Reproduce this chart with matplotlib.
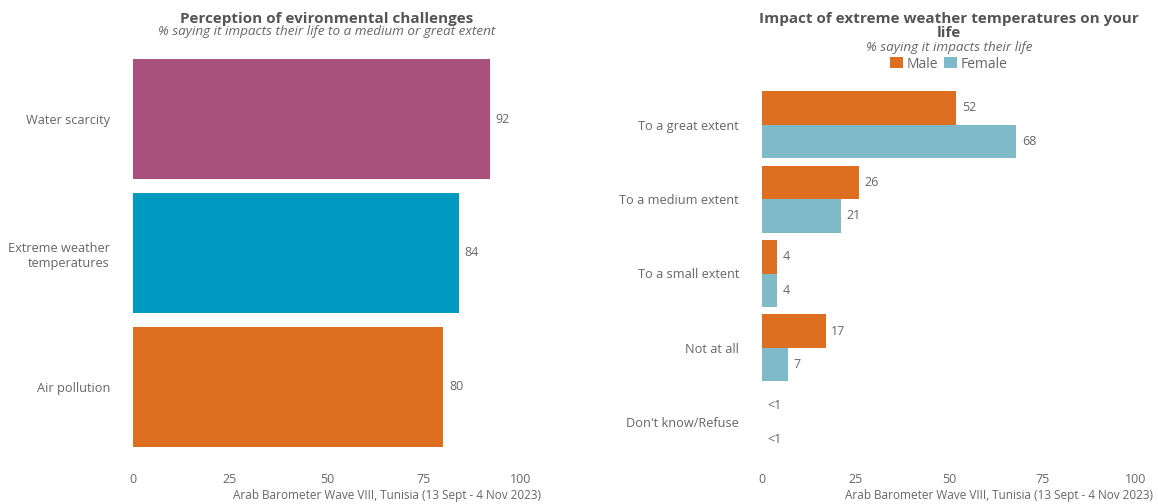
import matplotlib.pyplot as plt
import numpy as np

plt.rcParams['font.family'] = ['Open Sans', 'DejaVu Sans']

# left panel data
challenges = ['Water scarcity', 'Extreme weather\ntemperatures', 'Air pollution']
challenge_vals = [92, 84, 80]
challenge_colors = ['#AA507D', '#0099C0', '#DE6E20']

# right panel data
extent_cats = ['To a great extent', 'To a medium extent', 'To a small extent',
               'Not at all', "Don't know/Refuse"]
male_vals = [52, 26, 4, 17, 0]
female_vals = [68, 21, 4, 7, 0]
male_labels = ['52', '26', '4', '17', '<1']
female_labels = ['68', '21', '4', '7', '<1']

ticks = [0, 25, 50, 75, 100]
W, H = 1158, 504
grey = '#555555'
label_grey = '#666666'
caption = 'Arab Barometer Wave VIII, Tunisia (13 Sept - 4 Nov 2023)'

fig = plt.figure(figsize=(W / 100, H / 100), dpi=100)


def px_axes(x0, x1, y0, y1):
    return fig.add_axes([x0 / W, 1 - y1 / H, (x1 - x0) / W, (y1 - y0) / H])


def style(ax):
    for s in ax.spines.values():
        s.set_visible(False)
    ax.tick_params(length=0, labelsize=9, labelcolor=label_grey)
    ax.tick_params(axis='y', pad=16.5, labelsize=9.2)
    ax.tick_params(axis='x', pad=4)
    ax.set_xlim(0, 100)
    ax.set_xticks(ticks)


# left panel
ax1 = px_axes(133, 521, 39, 467)
y1 = np.arange(len(challenges))
ax1.barh(y1, challenge_vals, height=0.9, color=challenge_colors)
for y, v in zip(y1, challenge_vals):
    ax1.text(v + 1.5, y, str(v), va='center', ha='left', fontsize=9, color=label_grey)
ax1.set_yticks(y1)
ax1.set_yticklabels(challenges, ha='right')
ax1.set_ylim(len(challenges) - 0.4, -0.6)
style(ax1)

fig.text(327 / W, 1 - 19 / H, 'Perception of evironmental challenges', ha='center', va='center',
         fontsize=11, fontweight='bold', color=grey)
fig.text(327 / W, 1 - 32 / H, '% saying it impacts their life to a medium or great extent',
         ha='center', va='center', fontsize=9.7, style='italic', color=label_grey)
fig.text(541 / W, 1 - 496 / H, caption, ha='right', va='center', fontsize=8.5, color=label_grey)

# right panel
ax2 = px_axes(762, 1136, 80, 467)
y2 = np.arange(len(extent_cats))
ax2.barh(y2 - 0.225, male_vals, height=0.45, color='#DE6E20', label='Male')
ax2.barh(y2 + 0.225, female_vals, height=0.45, color='#7FBAC9', label='Female')
for y, v, t in zip(y2, male_vals, male_labels):
    ax2.text(v + 1.5, y - 0.225, t, va='center', ha='left', fontsize=9, color=label_grey)
for y, v, t in zip(y2, female_vals, female_labels):
    ax2.text(v + 1.5, y + 0.225, t, va='center', ha='left', fontsize=9, color=label_grey)
ax2.set_yticks(y2)
ax2.set_yticklabels(extent_cats)
ax2.set_ylim(len(extent_cats) - 0.4, -0.6)
style(ax2)

fig.text(949 / W, 1 - 26 / H, 'Impact of extreme weather temperatures on your\nlife', ha='center',
         va='center', fontsize=11, fontweight='bold', color=grey, linespacing=0.95)
fig.text(949 / W, 1 - 48 / H, '% saying it impacts their life', ha='center', va='center',
         fontsize=9.7, style='italic', color=label_grey)
fig.legend(*ax2.get_legend_handles_labels(), loc='center', bbox_to_anchor=(949 / W, 1 - 64 / H),
           ncol=2, frameon=False, fontsize=10, handlelength=0.9, handleheight=0.9,
           handletextpad=0.3, columnspacing=0.4, labelcolor=label_grey, borderpad=0)
fig.text(1153 / W, 1 - 496 / H, caption, ha='right', va='center', fontsize=8.5, color=label_grey)

fig.savefig('out.png', dpi=100)
